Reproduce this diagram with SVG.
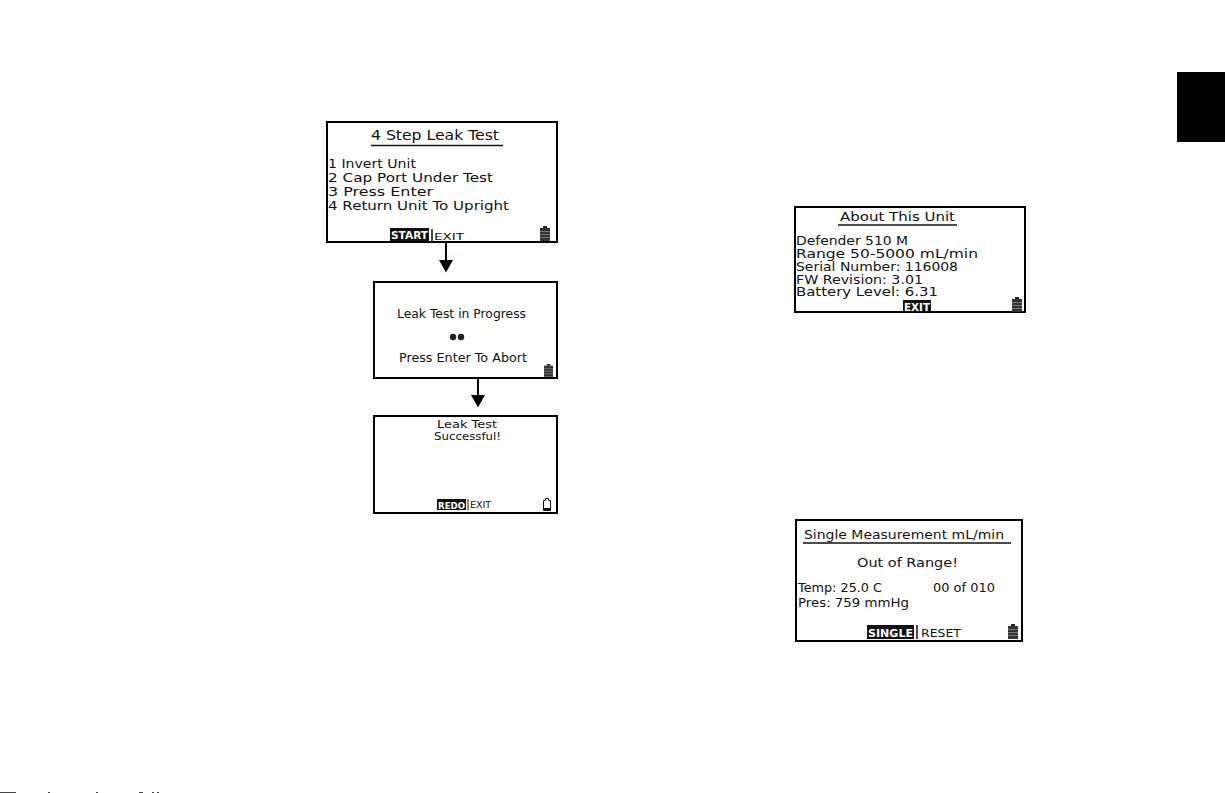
<svg xmlns="http://www.w3.org/2000/svg" width="1225" height="793" viewBox="0 0 1225 793">
<style>
text{font-family:"DejaVu Sans","Liberation Sans",sans-serif;fill:#111;font-size:13px}
.scr{fill:#fff;stroke:#000;stroke-width:2}
.t{font-size:14px}
.n{font-size:12px}
.s{font-size:9.500px}
.w{fill:#fff;font-size:10px;font-weight:bold}
.u{stroke:#111;stroke-width:1.500;fill:none}
.c{stroke:#000;stroke-width:2;fill:none}
</style>
<defs>
<g id="bat"><rect x="3" y="0" width="4" height="2" fill="#222"/><rect x="0" y="2" width="10" height="13" fill="#333"/><path d="M0 5.500H10M0 8.500H10M0 11.500H10" stroke="#999" stroke-width=".7"/></g>
</defs>
<rect width="1225" height="793" fill="#fff"/>
<rect id="tab" x="1177" y="72" width="48" height="70" fill="#000"/>

<g id="connectors">
<path class="c" d="M446 242V261"/><path d="M439 260H453L446 272.500Z" fill="#000"/>
<path class="c" d="M478 378V396"/><path d="M471 395H485L478 407.500Z" fill="#000"/>
</g>

<g id="node-leak-test">
<rect class="scr" x="327" y="122" width="230" height="120"/>
<text class="t" x="371" y="140" textLength="128" lengthAdjust="spacingAndGlyphs">4 Step Leak Test</text>
<path class="u" d="M371 145.500H503"/>
<text x="328" y="168" textLength="88" lengthAdjust="spacingAndGlyphs">1 Invert Unit</text>
<text x="328" y="182" textLength="165" lengthAdjust="spacingAndGlyphs">2 Cap Port Under Test</text>
<text x="328" y="196" textLength="105" lengthAdjust="spacingAndGlyphs">3 Press Enter</text>
<text x="328" y="210" textLength="181" lengthAdjust="spacingAndGlyphs">4 Return Unit To Upright</text>
<rect x="390" y="228" width="39" height="13" fill="#111"/>
<text class="w" x="391" y="239" textLength="37" lengthAdjust="spacingAndGlyphs">START</text>
<path class="u" d="M432 229V241"/>
<text class="s" x="434" y="240" textLength="30" lengthAdjust="spacingAndGlyphs">EXIT</text>
<use href="#bat" x="540" y="226"/>
</g>

<g id="node-in-progress">
<rect class="scr" x="374" y="282" width="183" height="96"/>
<text x="397" y="318" textLength="129" lengthAdjust="spacingAndGlyphs">Leak Test in Progress</text>
<circle cx="453" cy="337" r="3.200" fill="#222"/><circle cx="461" cy="337" r="3.200" fill="#222"/>
<text x="399" y="362" textLength="128" lengthAdjust="spacingAndGlyphs">Press Enter To Abort</text>
<use href="#bat" transform="translate(544 364) scale(.9 .85)"/>
</g>

<g id="node-successful">
<rect class="scr" x="374" y="416" width="183" height="97"/>
<text class="n" x="437" y="427.500" textLength="60" lengthAdjust="spacingAndGlyphs" style="font-size:11px">Leak Test</text>
<text class="n" x="434" y="440" textLength="67" lengthAdjust="spacingAndGlyphs" style="font-size:11px">Successful!</text>
<rect x="437" y="499" width="29" height="11" fill="#111"/>
<text class="w" x="438" y="509" textLength="27" lengthAdjust="spacingAndGlyphs" style="font-size:9px">REDO</text>
<path class="u" d="M468 499V510" style="stroke-width:1"/>
<text class="s" x="470" y="508" textLength="21" lengthAdjust="spacingAndGlyphs" style="font-size:8px">EXIT</text>
<path d="M545.500 498.500H548.500V500.500H550.500V510.500H543.500V500.500H545.500Z" fill="#fff" stroke="#111"/>
<rect x="544" y="508" width="6" height="2.500" fill="#111"/>
</g>

<g id="node-about">
<rect class="scr" x="795" y="207" width="230" height="105"/>
<text x="840" y="221" textLength="115" lengthAdjust="spacingAndGlyphs">About This Unit</text>
<path class="u" d="M838 225H957"/>
<text class="n" x="796" y="245" textLength="112" lengthAdjust="spacingAndGlyphs">Defender 510 M</text>
<text class="n" x="796" y="258" textLength="182" lengthAdjust="spacingAndGlyphs">Range 50-5000 mL/min</text>
<text class="n" x="796" y="271" textLength="162" lengthAdjust="spacingAndGlyphs">Serial Number: 116008</text>
<text class="n" x="796" y="284" textLength="127" lengthAdjust="spacingAndGlyphs">FW Revision: 3.01</text>
<text class="n" x="796" y="296" textLength="142" lengthAdjust="spacingAndGlyphs" style="font-size:11.500px">Battery Level: 6.31</text>
<rect x="903" y="300" width="28" height="12" fill="#111"/>
<text class="w" x="904" y="311" textLength="26" lengthAdjust="spacingAndGlyphs">EXIT</text>
<use href="#bat" x="1012" y="297"/>
</g>

<g id="node-single">
<rect class="scr" x="796" y="520" width="226" height="121"/>
<text x="804" y="539" textLength="200" lengthAdjust="spacingAndGlyphs">Single Measurement mL/min</text>
<path class="u" d="M803 543H1011"/>
<text x="857" y="567" textLength="101" lengthAdjust="spacingAndGlyphs">Out of Range!</text>
<text x="798" y="592" textLength="84" lengthAdjust="spacingAndGlyphs">Temp: 25.0 C</text>
<text x="933" y="592" textLength="62" lengthAdjust="spacingAndGlyphs">00 of  010</text>
<text x="798" y="607" textLength="111" lengthAdjust="spacingAndGlyphs">Pres:  759 mmHg</text>
<rect x="867" y="625" width="47" height="14" fill="#111"/>
<text class="w" x="868" y="637" textLength="45" lengthAdjust="spacingAndGlyphs">SINGLE</text>
<path class="u" d="M917 625V639"/>
<text class="s" x="921" y="637" textLength="40" lengthAdjust="spacingAndGlyphs" style="font-size:10px">RESET</text>
<use href="#bat" x="1008" y="624"/>
</g>

<g id="page-edge" fill="#444">
<rect x="0" y="792" width="16" height="1"/><rect x="48" y="792" width="2" height="1"/><rect x="96" y="792" width="2" height="1"/><rect x="139" y="792" width="4" height="1"/><rect x="152" y="792" width="2" height="1"/><rect x="157" y="792" width="2" height="1"/>
</g>
</svg>
